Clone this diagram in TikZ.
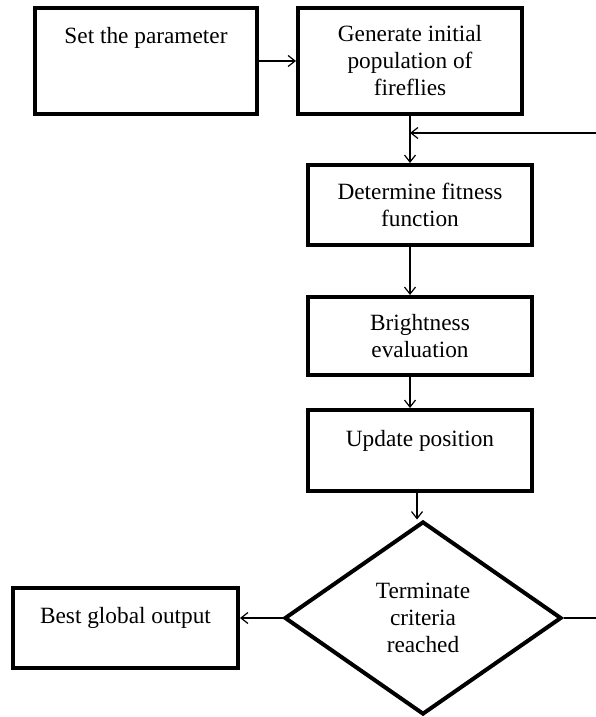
\documentclass[tikz,border=0pt]{standalone}
\usepackage{fontspec}
\setmainfont{Liberation Serif}
\usetikzlibrary{shapes.geometric,arrows.meta}
\begin{document}
\begin{tikzpicture}[x=1pt,y=-1pt,
  every node/.style={font=\fontsize{23.3}{27}\selectfont, align=center},
  stepbox/.style={draw, line width=4pt, rectangle, inner sep=0pt},
  decision/.style={draw, line width=4pt, diamond, inner sep=0pt, minimum width=277pt, minimum height=193pt},
  conn/.style={line width=1.2pt},
  arr/.style={conn, -{Straight Barb[length=7pt,width=11pt,line width=1.2pt]}}]
\useasboundingbox (0,0) rectangle (596,717);
\node[stepbox, minimum width=222pt, minimum height=105pt] (set) at (146,61) {Set the parameter\\[-2pt]~\\~};
\node[stepbox, minimum width=224pt, minimum height=106pt] (gen) at (410,61) {Generate initial\\population of\\fireflies};
\node[stepbox, minimum width=224pt, minimum height=80pt] (fit) at (420,205) {Determine fitness\\function};
\node[stepbox, minimum width=224pt, minimum height=78pt] (bright) at (420,336) {Brightness\\evaluation};
\node[stepbox, minimum width=224pt, minimum height=81pt] (upd) at (420,450.5) {Update position\\[-2pt]~};
\node[stepbox, minimum width=225pt, minimum height=80pt] (best) at (125.5,628) {Best global output\\[-2pt]~};
\node[decision] (term) at (423,618) {Terminate\\criteria\\reached};
\coordinate (fbR) at (596,133);
\coordinate (fbJ) at (410,133);
\coordinate (outR) at (596,618);
\draw[arr] (set.east) -- (gen.west);
\draw[arr] (gen.south) -- (gen.south |- fit.north);
\draw[arr] (fbR) -- (fbJ);
\draw[arr] (fit.south -| gen.south) -- (bright.north -| gen.south);
\draw[arr] (bright.south -| gen.south) -- (upd.north -| gen.south);
\draw[arr] ([xshift=-3pt]upd.south) -- ([xshift=-6pt]term.north);
\draw[arr] (term.west) -- (term.west -| best.east);
\draw[conn] (term.east) -- (outR);
\end{tikzpicture}
\end{document}
